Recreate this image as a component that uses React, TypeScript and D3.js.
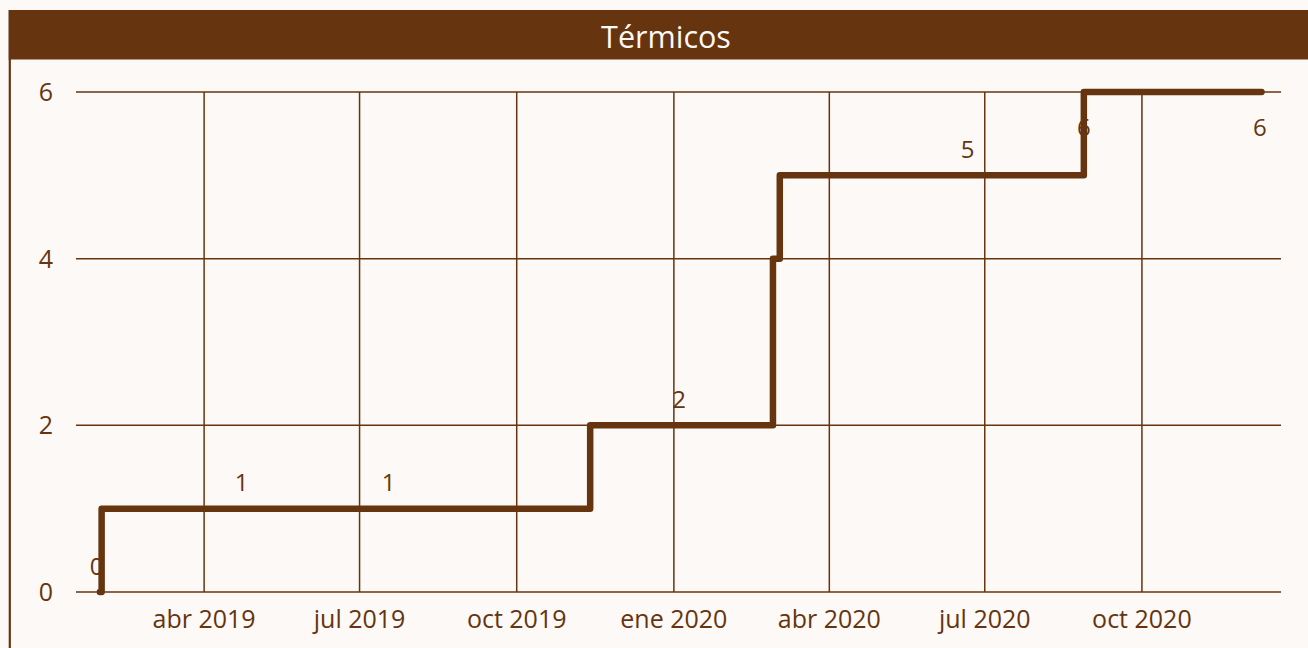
import React from "react";
import * as d3 from "d3";

const W = 1308;
const H = 648;

const title = "Térmicos";
const stepDates = ["2019-01-30", "2019-01-31", "2019-11-13", "2020-02-28", "2020-03-03", "2020-08-28", "2020-12-10"];
const stepValues = [0, 1, 2, 4, 5, 6, 6];
const labelDates = ["2019-01-28", "2019-04-23", "2019-07-18", "2020-01-04", "2020-06-21", "2020-08-28", "2020-12-09"];
const labelValues = [0, 1, 1, 2, 5, 6, 6];
const xTickDates = ["2019-04-01", "2019-07-01", "2019-10-01", "2020-01-01", "2020-04-01", "2020-07-01", "2020-10-01"];
const xTickLabels = ["abr 2019", "jul 2019", "oct 2019", "ene 2020", "abr 2020", "jul 2020", "oct 2020"];
const yTicks = [0, 2, 4, 6];

const BROWN = "#66340f";
const BG = "#fcf9f6";
const FONT = "'Open Sans', sans-serif";

const parse = (s: string) => {
  const [y, m, d] = s.split("-").map(Number);
  return new Date(y, m - 1, d);
};

export default function App() {
  const x = d3
    .scaleTime()
    .domain([new Date(2019, 0, 16), new Date(2020, 11, 21, 10)])
    .range([76, 1281]);
  const y = d3.scaleLinear().domain([0, 6]).range([592, 92]);

  const pts: [number, number][] = stepDates.map((d, i) => [x(parse(d)), y(stepValues[i])]);
  const line = d3.line().curve(d3.curveStepAfter)(pts) || "";

  return (
    <svg
      width={W}
      height={H}
      style={{ position: "absolute", left: 0, top: 0, background: BG }}
      fontFamily={FONT}
    >
      <rect x={0} y={0} width={W} height={H} fill={BG} />
      <rect x={8.5} y={10} width={W} height={49.5} fill={BROWN} />
      <line x1={9.8} x2={9.8} y1={59} y2={H} stroke={BROWN} strokeWidth={2.2} />
      <text x={666} y={48} textAnchor="middle" fill={BG} fontSize={30.5}>
        {title}
      </text>

      {yTicks.map((t) => (
        <g key={"y" + t}>
          <line x1={76} x2={1281} y1={y(t)} y2={y(t)} stroke={BROWN} strokeWidth={1.5} />
          <text x={53} y={y(t) + 9} textAnchor="end" fill={BROWN} fontSize={25}>
            {t}
          </text>
        </g>
      ))}

      {xTickDates.map((d, i) => {
        const xx = x(parse(d));
        return (
          <g key={"x" + i}>
            <line x1={xx} x2={xx} y1={y(6)} y2={y(0)} stroke={BROWN} strokeWidth={1.5} />
            <text x={xx} y={628} textAnchor="middle" fill={BROWN} fontSize={25}>
              {xTickLabels[i]}
            </text>
          </g>
        );
      })}

      {labelDates.map((d, i) => {
        const v = labelValues[i];
        const yy = v === 6 ? y(v) + 35 + 8.5 : y(v) - 26 + 8.5;
        return (
          <text key={"l" + i} x={x(parse(d))} y={yy} textAnchor="middle" fill={BROWN} fontSize={24}>
            {v}
          </text>
        );
      })}

      <path d={line} fill="none" stroke={BROWN} strokeWidth={6.5} strokeLinecap="round" strokeLinejoin="round" />
    </svg>
  );
}
